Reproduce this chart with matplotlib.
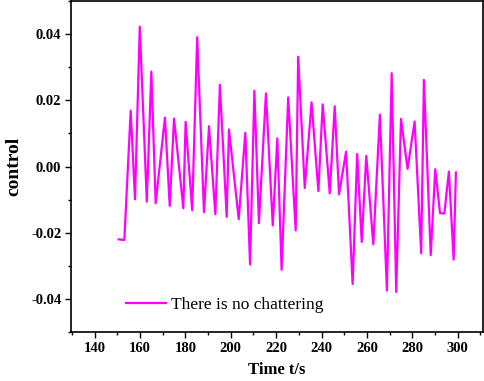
import matplotlib
matplotlib.use("Agg")
import matplotlib.pyplot as plt
from matplotlib.ticker import MultipleLocator

plt.rcParams['font.family'] = ['Liberation Serif', 'DejaVu Serif']

# time (s) and control signal
t = [150.6, 153.1, 155.9, 157.8, 159.9, 163.0, 165.0, 166.9, 171.0, 173.1,
     175.0, 179.1, 180.1, 183.0, 185.2, 188.2, 190.4, 193.2, 195.2, 198.2,
     199.2, 203.5, 206.4, 208.5, 210.4, 212.4, 215.5, 218.5, 220.5, 222.4,
     225.3, 228.6, 229.7, 232.6, 235.6, 238.6, 240.5, 243.6, 245.8, 247.7,
     250.8, 253.7, 255.7, 257.7, 259.7, 262.8, 265.7, 268.8, 270.9, 272.9,
     275.0, 277.9, 281.0, 283.9, 285.1, 288.1, 290.1, 292.2, 294.1, 296.1,
     298.2, 299.2]
u = [-0.0220, -0.0222, 0.0169, -0.0099, 0.0423, -0.0106, 0.0287, -0.0111, 0.0148, -0.0119,
     0.0145, -0.0126, 0.0135, -0.0132, 0.0391, -0.0138, 0.0122, -0.0144, 0.0247, -0.0152,
     0.0112, -0.0159, 0.0102, -0.0296, 0.0229, -0.0171, 0.0221, -0.0178, 0.0085, -0.0312,
     0.0209, -0.0193, 0.0332, -0.0065, 0.0194, -0.0074, 0.0188, -0.0081, 0.0182, -0.0084,
     0.0045, -0.0355, 0.0038, -0.0228, 0.0032, -0.0235, 0.0157, -0.0375, 0.0282, -0.0379,
     0.0144, -0.0007, 0.0136, -0.0262, 0.0262, -0.0268, -0.0008, -0.0141, -0.0142, -0.0015,
     -0.0281, -0.0018]

fig = plt.figure(figsize=(4.84, 3.81), dpi=100)
ax = fig.add_axes([0.1467, 0.1286, 0.8506, 0.8685])

ax.plot(t, u, color='#FF00FF', lw=1.6, label='There is no chattering')

ax.set_xlim(129.6, 311)
ax.set_ylim(-0.05, 0.05)
ax.xaxis.set_major_locator(MultipleLocator(20))
ax.xaxis.set_minor_locator(MultipleLocator(10))
ax.yaxis.set_major_locator(MultipleLocator(0.02))
ax.yaxis.set_minor_locator(MultipleLocator(0.01))
ax.yaxis.set_major_formatter(matplotlib.ticker.FormatStrFormatter('%.2f'))
ax.tick_params(which='major', direction='out', length=4, width=1, labelsize=10.5, pad=3)
ax.tick_params(which='minor', direction='out', length=2.5, width=1)
for lab in ax.get_xticklabels() + ax.get_yticklabels():
    lab.set_fontweight('bold')
for s in ax.spines.values():
    s.set_linewidth(1.2)

ax.set_xlabel('Time t/s', fontsize=12, fontweight='bold', labelpad=5)
ax.set_ylabel('control', fontsize=14, fontweight='bold', labelpad=6)

ax.legend(loc='lower left', bbox_to_anchor=(0.095, 0.01), frameon=False,
          fontsize=12.5, handlelength=2.3, handletextpad=0.3)

fig.savefig('out.png', dpi=100)
